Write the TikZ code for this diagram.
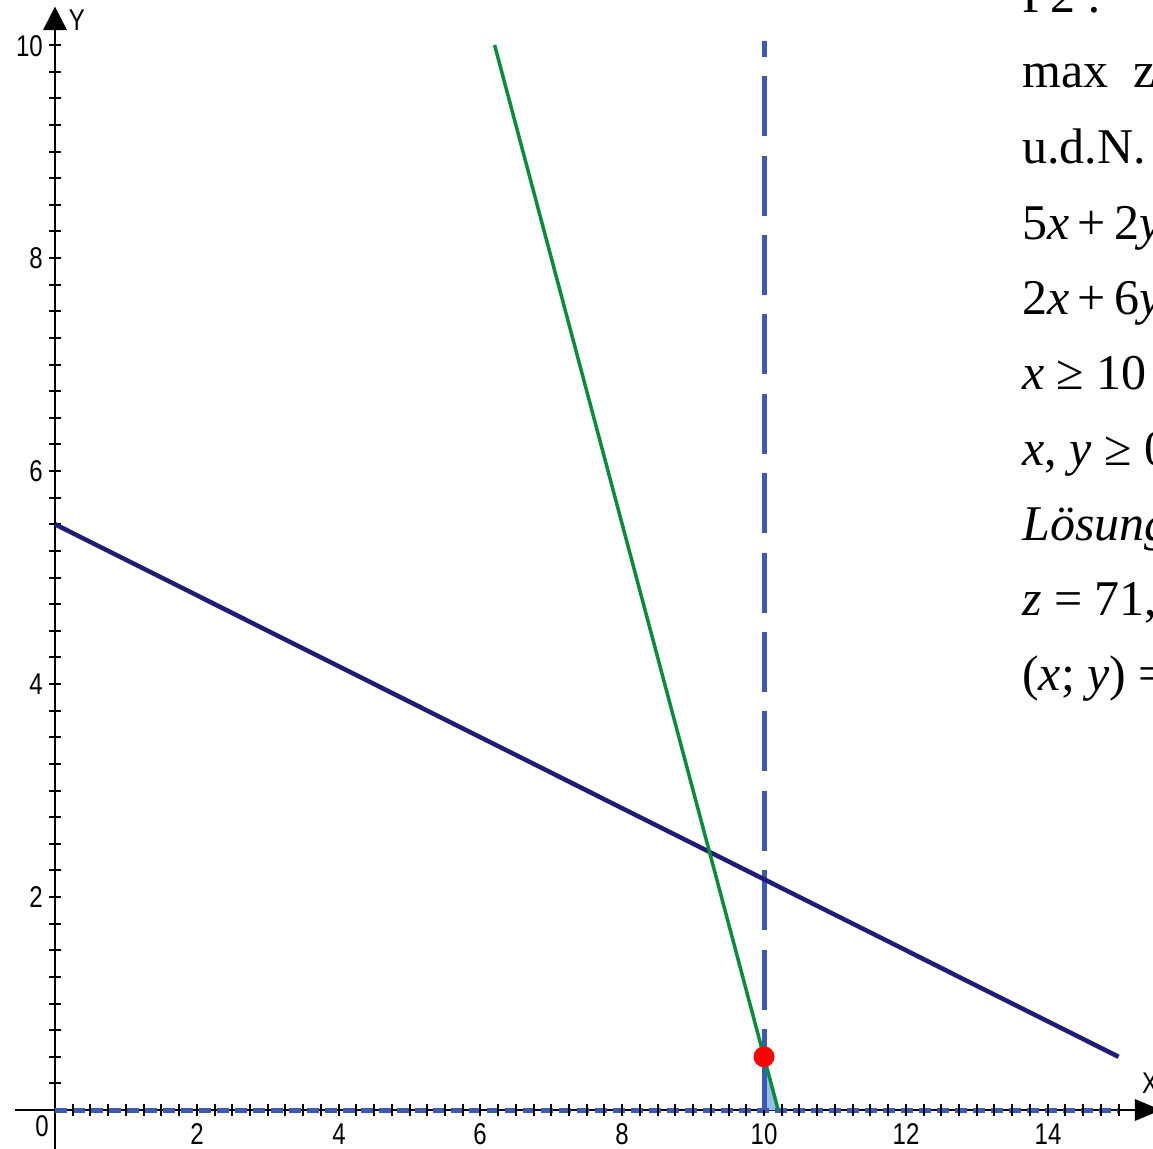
\documentclass[tikz,border=0pt]{standalone}
\usepackage{fontspec}
\setmainfont{Liberation Serif}
\newfontfamily\axfont{Liberation Sans}
\definecolor{navyline}{RGB}{30,30,120}
\definecolor{greenline}{RGB}{10,140,60}
\definecolor{dashblue}{RGB}{60,90,180}
\definecolor{regionfill}{RGB}{150,190,230}
\tikzset{
  ticklabel/.style={font=\axfont\fontsize{30}{30}\selectfont, xscale=0.8, inner sep=0pt},
  eqline/.style={anchor=base west, inner sep=0pt, font=\fontsize{50}{50}\selectfont},
  axisline/.style={black, line width=2pt},
  tickmark/.style={black, line width=2pt},
}
\begin{document}
\begin{tikzpicture}[x=1pt,y=-1pt]
\useasboundingbox (0,0) rectangle (1153,1148);
\clip (0,0) rectangle (1153,1148);
\fill[white] (0,0) rectangle (1153,1148);

\begin{scope}[shift={(55,1110)}, x={(70.9pt,0pt)}, y={(0pt,106.5pt)}]
  % axes
  \coordinate (ybot) at (0,-0.37);
  \coordinate (ytip) at (0,10.36);
  \coordinate (xleft) at (-0.565,0);
  \coordinate (xtip) at (15.6,0);
  \draw[axisline] (ybot) -- (0,10.15);
  \draw[axisline] (xleft) -- (15.25,0);
  \fill[black] (ytip) -- ([xshift=-12pt]0,10.14) -- ([xshift=12pt]0,10.14) -- cycle;
  \fill[black] (xtip) -- ([yshift=11pt]15.23,0) -- ([yshift=-11pt]15.23,0) -- cycle;

  % feasible region
  \coordinate (pA) at (10,0);
  \coordinate (pB) at (10,0.5);
  \coordinate (pC) at (10.2,0);
  \fill[regionfill] (pA) -- (pB) -- (pC) -- cycle;

  % constraint y >= 0 along x axis
  \draw[dashblue, line width=5pt, dash pattern=on 12pt off 6pt] (0,0) -- (15,0);

  % ticks
  \foreach \i in {1,...,40} \draw[tickmark] ([xshift=-6pt]0,\i/4) -- ([xshift=6pt]0,\i/4);
  \foreach \i in {1,...,60} \draw[tickmark] ([yshift=-6pt]\i/4,0) -- ([yshift=6pt]\i/4,0);

  % constraint x >= 10 (dashed)
  \coordinate (vTop) at (10,10.04);
  \draw[dashblue, line width=5pt, dash pattern=on 60pt off 19.4pt, dash phase=44pt] (vTop) -- (pB);
  \draw[dashblue, line width=5pt] (pA) -- (pB);

  % constraint 2x+6y
  \coordinate (nA) at (0,5.5);
  \coordinate (nB) at (15,0.5);
  \draw[navyline, line width=4.5pt] (nA) -- (nB);

  % constraint 5x+2y
  \coordinate (gA) at (6.2,10);
  \coordinate (gB) at (10.2,0);
  \draw[greenline, line width=3.5pt] (gA) -- (gB);

  % optimum
  \fill[red] (pB) circle (10.5pt);
\end{scope}

% axis labels
\node[ticklabel] (lY) at (77,20) {Y};
\node[ticklabel] (lX) at (1150,1083) {X};
\node[ticklabel, anchor=east] (y10) at (43,46) {10};
\node[ticklabel, anchor=east] (y8) at (43,258) {8};
\node[ticklabel, anchor=east] (y6) at (43,471) {6};
\node[ticklabel, anchor=east] (y4) at (43,684) {4};
\node[ticklabel, anchor=east] (y2) at (43,897) {2};
\node[ticklabel] (x0) at (42,1126) {0};
\node[ticklabel] (x2) at (197,1134) {2};
\node[ticklabel] (x4) at (339,1134) {4};
\node[ticklabel] (x6) at (480,1134) {6};
\node[ticklabel] (x8) at (622,1134) {8};
\node[ticklabel] (x10) at (764,1134) {10};
\node[ticklabel] (x12) at (906,1134) {12};
\node[ticklabel] (x14) at (1048,1134) {14};

% text block
\node[eqline] (t0) at (1022,13) {P2 :};
\node[eqline] (t1) at (1022,88) {max\ \ z};
\node[eqline] (t2) at (1022,163) {u.d.N.};
\node[eqline] (t3) at (1022,239) {5\textit{x}\,+\,2\textit{y}};
\node[eqline] (t4) at (1022,314) {2\textit{x}\,+\,6\textit{y}};
\node[eqline] (t5) at (1022,389) {\textit{x} ≥ 10};
\node[eqline] (t6) at (1022,465) {\textit{x}, \textit{y} ≥ 0};
\node[eqline] (t7) at (1022,540) {\textit{Lösung}};
\node[eqline] (t8) at (1022,615) {\textit{z} = 71,};
\node[eqline] (t9) at (1022,690) {(\textit{x}; \textit{y}) =};
\end{tikzpicture}
\end{document}
